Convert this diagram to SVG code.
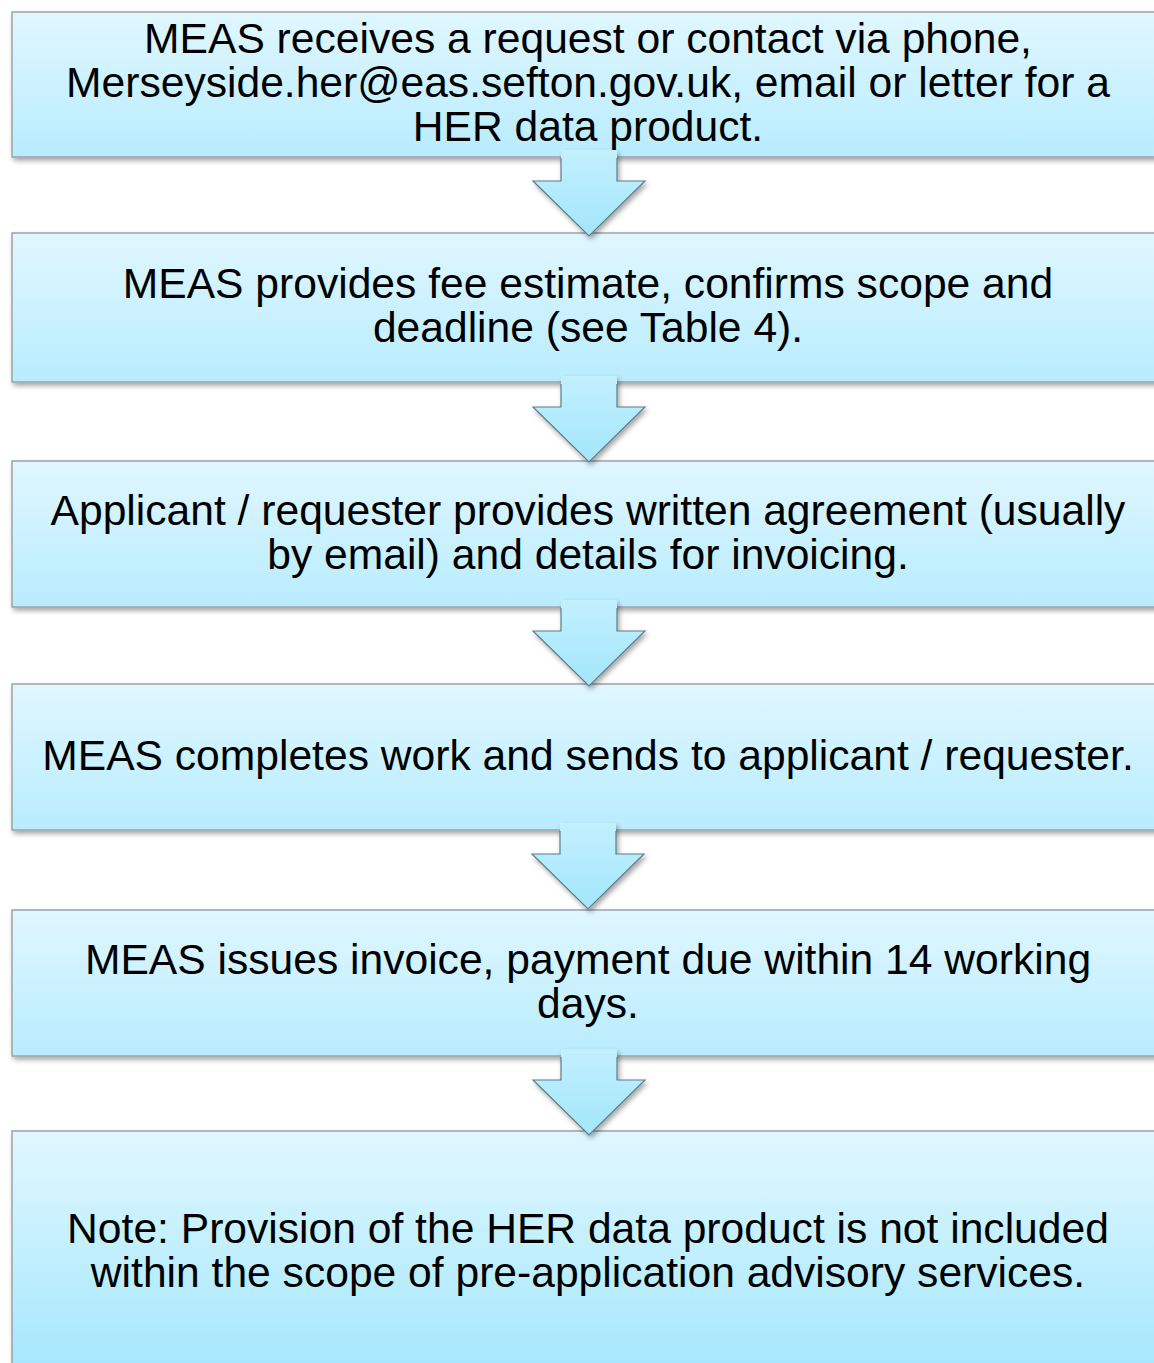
<svg xmlns="http://www.w3.org/2000/svg" width="1154" height="1363" viewBox="0 0 1154 1363">
<defs>
<linearGradient id="boxg" x1="0" y1="0" x2="0" y2="1">
<stop offset="0" stop-color="#e0f7ff"/>
<stop offset="1" stop-color="#b8ecfe"/>
</linearGradient>
<linearGradient id="boxg6" x1="0" y1="0" x2="0" y2="1">
<stop offset="0" stop-color="#e0f7ff"/>
<stop offset="1" stop-color="#9fe6fc"/>
</linearGradient>
<linearGradient id="arrg" x1="0" y1="0" x2="0" y2="1">
<stop offset="0" stop-color="#c2f0ff"/>
<stop offset="1" stop-color="#a3e6fb"/>
</linearGradient>
<filter id="sh" x="-5%" y="-10%" width="115%" height="130%">
<feDropShadow dx="2" dy="3" stdDeviation="2.5" flood-color="#000" flood-opacity="0.35"/>
</filter>
</defs>
<style>
.box{fill:url(#boxg);stroke:#9aa4a8;stroke-width:1.5;filter:url(#sh)}
.box6{fill:url(#boxg6);stroke:#9aa4a8;stroke-width:1.5;filter:url(#sh)}
.af{fill:url(#arrg);stroke:none}
.ao{fill:none;stroke:#5d7d88;stroke-width:1.2;stroke-linejoin:miter}
text{font-family:"Liberation Sans",Arial,sans-serif;font-size:42.6px;fill:#000;text-anchor:middle}
</style>
<rect width="1154" height="1363" fill="#ffffff"/>
<g id="node1"><rect class="box" x="12" y="12" width="1170" height="145"/>
<text x="588" y="53">MEAS receives a request or contact via phone,</text>
<text x="588" y="97">Merseyside.her@eas.sefton.gov.uk, email or letter for a</text>
<text x="588" y="141">HER data product.</text></g>
<g id="node2"><rect class="box" x="12" y="233" width="1170" height="149"/>
<text x="588" y="298">MEAS provides fee estimate, confirms scope and</text>
<text x="588" y="342">deadline (see Table 4).</text></g>
<g id="node3"><rect class="box" x="12" y="461" width="1170" height="146"/>
<text x="588" y="525">Applicant / requester provides written agreement (usually</text>
<text x="588" y="569">by email) and details for invoicing.</text></g>
<g id="node4"><rect class="box" x="12" y="684" width="1170" height="146"/>
<text x="588" y="770">MEAS completes work and sends to applicant / requester.</text></g>
<g id="node5"><rect class="box" x="12" y="910" width="1170" height="146"/>
<text x="588" y="974">MEAS issues invoice, payment due within 14 working</text>
<text x="588" y="1018">days.</text></g>
<g id="node6"><rect class="box6" x="12" y="1131" width="1170" height="260"/>
<text x="588" y="1243">Note: Provision of the HER data product is not included</text>
<text x="588" y="1287">within the scope of pre-application advisory services.</text></g>
<g id="connectors">
<g transform="translate(0,0)" filter="url(#sh)">
<path class="af" d="M561 150 L617 150 L617 181 L645 181 L589 236 L533 181 L561 181 Z"/>
<path class="ao" d="M561 158 L561 181 L533 181 L589 236 L645 181 L617 181 L617 158"/>
</g>
<g transform="translate(0,226)" filter="url(#sh)">
<path class="af" d="M561 150 L617 150 L617 181 L645 181 L589 236 L533 181 L561 181 Z"/>
<path class="ao" d="M561 158 L561 181 L533 181 L589 236 L645 181 L617 181 L617 158"/>
</g>
<g transform="translate(0,450)" filter="url(#sh)">
<path class="af" d="M561 150 L617 150 L617 181 L645 181 L589 236 L533 181 L561 181 Z"/>
<path class="ao" d="M561 158 L561 181 L533 181 L589 236 L645 181 L617 181 L617 158"/>
</g>
<g transform="translate(-1,673)" filter="url(#sh)">
<path class="af" d="M561 150 L617 150 L617 181 L645 181 L589 236 L533 181 L561 181 Z"/>
<path class="ao" d="M561 158 L561 181 L533 181 L589 236 L645 181 L617 181 L617 158"/>
</g>
<g transform="translate(0,899)" filter="url(#sh)">
<path class="af" d="M561 150 L617 150 L617 181 L645 181 L589 236 L533 181 L561 181 Z"/>
<path class="ao" d="M561 158 L561 181 L533 181 L589 236 L645 181 L617 181 L617 158"/>
</g>
</g>
</svg>
